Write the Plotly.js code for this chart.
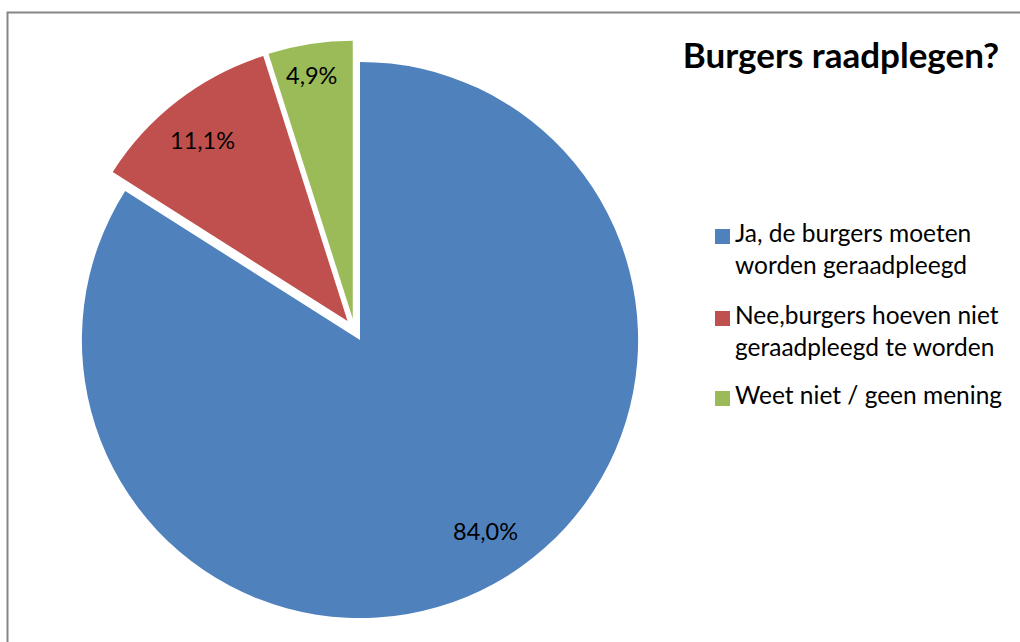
<!DOCTYPE html>
<html>
<head>
<meta charset="utf-8">
<script src="https://cdn.plot.ly/plotly-3.0.1.min.js"></script>
<style>html,body{margin:0;padding:0;background:#fff;}#chart{width:1020px;height:642px;}</style>
</head>
<body>
<div id="chart"></div>
<script>
const categories = [
  "Ja, de burgers moeten<br>worden geraadpleegd",
  "Nee,burgers hoeven niet<br>geraadpleegd te worden",
  "Weet niet / geen mening"
];
const values = [84.0, 11.1, 4.9];
const sliceColors = ["#4F81BD", "#C0504D", "#9BBB59"];
const titleText = "Burgers raadplegen?";

const W = 1020, H = 642;
const domX = [0.0637, 0.6314];
const domY = [0.035, 0.9369];
const pullFrac = 0.041;
const labelRadius = [0.82, 0.833, 0.889];
const labelAngleShift = [-4.3, -1.0, -0.7];
const legendTop = [216, 298, 378];   // px, top of each legend entry text
const FONT = "Lato, sans-serif";

// geometry same as plotly's pie scaling, for placing the percentage labels
const boxW = W * (domX[1] - domX[0]);
const boxH = H * (domY[1] - domY[0]);
const R = Math.min(boxW, boxH) / 2 / (1 + pullFrac);
const cx = W * (domX[0] + domX[1]) / 2;
const cy = H * (1 - domY[0]) - boxH / 2;
const total = values.reduce((a, b) => a + b, 0);
let cum = 0;
const annotations = values.map((v, i) => {
  const a0 = cum / total * 2 * Math.PI;
  cum += v;
  const a1 = cum / total * 2 * Math.PI;
  const mid = (a0 + a1) / 2 + labelAngleShift[i] * Math.PI / 180;
  const r = (pullFrac + labelRadius[i]) * R;
  const px = cx + r * Math.sin(mid);
  const py = cy - r * Math.cos(mid);
  return {
    xref: "paper", yref: "paper", x: px / W, y: 1 - py / H,
    xanchor: "center", yanchor: "middle", showarrow: false,
    text: (v / total * 100).toFixed(1).replace(".", ",") + "%",
    font: {family: FONT, size: 23.5, color: "#000"}
  };
});

// legend entries (text + colour squares)
const shapes = [];
categories.forEach((c, i) => {
  annotations.push({
    xref: "paper", yref: "paper", x: 733 / W, y: 1 - legendTop[i] / H,
    xanchor: "left", yanchor: "top", align: "left", showarrow: false,
    text: c, font: {family: FONT, size: 24.5, color: "#000"}
  });
  const top = legendTop[i] + 13;
  shapes.push({
    type: "rect", xref: "paper", yref: "paper",
    x0: 715 / W, x1: 730 / W, y0: 1 - top / H, y1: 1 - (top + 15) / H,
    line: {width: 0}, fillcolor: sliceColors[i]
  });
});
shapes.push({
  type: "rect", xref: "paper", yref: "paper",
  x0: 7.5 / W, x1: 1.1, y0: 1 - 12.5 / H, y1: -0.1,
  line: {color: "#868686", width: 2}, fillcolor: "rgba(0,0,0,0)", layer: "above"
});

const data = [{
  type: "pie",
  labels: categories,
  values: values,
  sort: false,
  direction: "clockwise",
  rotation: 0,
  pull: values.map(() => pullFrac),
  marker: {colors: sliceColors, line: {width: 0}},
  textinfo: "none",
  hoverinfo: "label+percent",
  domain: {x: domX, y: domY},
  showlegend: false
}];

const layout = {
  width: W, height: H,
  margin: {l: 0, r: 0, t: 0, b: 0},
  paper_bgcolor: "#fff",
  plot_bgcolor: "#fff",
  showlegend: false,
  title: {
    text: "<b>" + titleText + "</b>",
    x: 841 / W, xanchor: "center", xref: "paper",
    y: 1 - 56 / H, yanchor: "middle", yref: "container",
    font: {family: FONT, size: 35, color: "#000"}
  },
  annotations: annotations,
  shapes: shapes
};

Plotly.newPlot("chart", data, layout, {displayModeBar: false, staticPlot: true});
</script>
</body>
</html>
